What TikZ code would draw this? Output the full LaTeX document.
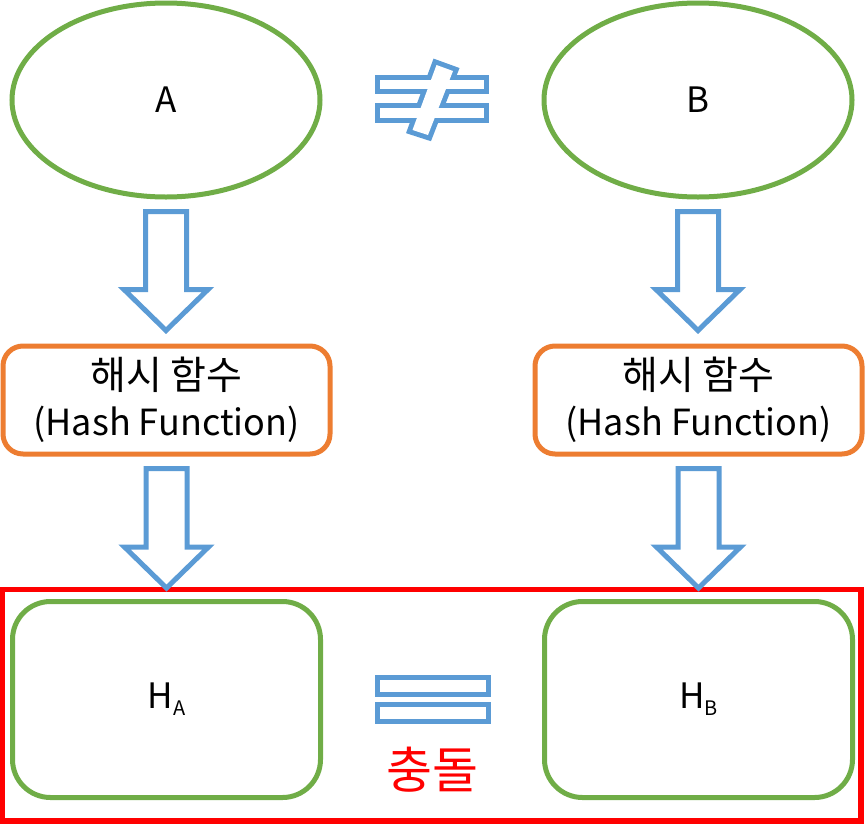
\documentclass[tikz,border=0pt]{standalone}
\usepackage{fontspec}
\setmainfont{Noto Sans CJK KR}
\usetikzlibrary{shapes.geometric,calc}
\definecolor{ggreen}{HTML}{70AD47}
\definecolor{gorange}{HTML}{ED7D31}
\definecolor{gblue}{HTML}{5B9BD5}
\newcommand\blockarrow[4]{% from node #1 (offset #2) to node #3 (offset #4)
  \draw[barrow] let \p1=($(#1.south)+(0,#2)$), \p2=($(#3.north)+(0,-#4)$) in
    (\x1-20.5pt,\y1) -- (\x1+20.5pt,\y1) -- (\x1+20.5pt,\y2+41pt) -- (\x1+42pt,\y2+41pt)
    -- (\x1,\y2) -- (\x1-42pt,\y2+41pt) -- (\x1-20.5pt,\y2+41pt) -- cycle;}
\newcommand\Hsub[1]{H\raisebox{-7pt}{\fontsize{20}{20}\selectfont #1}}
\begin{document}
\begin{tikzpicture}[x=1pt,y=-1pt, line width=5pt,
  ell/.style={ellipse, draw=ggreen, minimum width=308pt, minimum height=194pt, inner sep=0pt, font=\fontsize{35}{40}\selectfont},
  hashbox/.style={draw=gorange, rounded corners=20pt, minimum width=327pt, minimum height=108pt, align=center, font=\fontsize{36}{46}\selectfont},
  hbox/.style={draw=ggreen, rounded corners=38pt, minimum width=308pt, minimum height=196pt, font=\fontsize{35}{40}\selectfont},
  barrow/.style={draw=gblue, fill=white, line width=5pt, line join=miter},
  sign/.style={draw=gblue, line join=miter},
]
\useasboundingbox (0,0) rectangle (865,833);

% top ellipses
\node[ell] (A) at (166,100) {A};
\node[ell] (B) at (698,100) {B};

% hash boxes
\node[hashbox] (fA) at (166.5,400) {\fontsize{39}{46}\selectfont 해시 함수\\(Hash Function)};
\node[hashbox] (fB) at (698.5,400) {\fontsize{39}{46}\selectfont 해시 함수\\(Hash Function)};

% result boxes
\node[hbox] (hA) at (166.5,699.5) {\Hsub{A}};
\node[hbox] (hB) at (698.5,699.5) {\Hsub{B}};

% collision frame
\node[draw=red, line width=5.5pt, minimum width=859pt, minimum height=231.5pt, inner sep=0pt] (frame) at (431.5,705.25) {};

% arrows
\blockarrow{A}{12}{fA}{13}
\blockarrow{B}{12}{fB}{13}
\blockarrow{fA}{12}{hA}{11}
\blockarrow{fB}{12}{hB}{11}

% not-equal sign (union outline)
\begin{scope}[line join=miter]
  \draw[gblue, line width=10pt] (380,80) rectangle (484,89);
  \draw[gblue, line width=10pt] (380,108) rectangle (484,118);
  \draw[gblue, line width=10pt] (436.5,65) -- (453,71) -- (428,135) -- (412.5,130) -- cycle;
  \fill[white] (380,80) rectangle (484,89);
  \fill[white] (380,108) rectangle (484,118);
  \fill[white] (436.5,65) -- (453,71) -- (428,135) -- (412.5,130) -- cycle;
\end{scope}
\node[inner sep=0pt] (neq) at (432,100) {};

% equal sign
\node[sign, minimum width=111pt, minimum height=17pt, inner sep=0pt] (eq1) at (432.5,686) {};
\node[sign, minimum width=111pt, minimum height=17pt, inner sep=0pt] (eq2) at (432.5,712.5) {};

% collision label
\node[text=red, font=\fontsize{50}{54}\selectfont] (col) at (432,770) {충돌};
\end{tikzpicture}
\end{document}
